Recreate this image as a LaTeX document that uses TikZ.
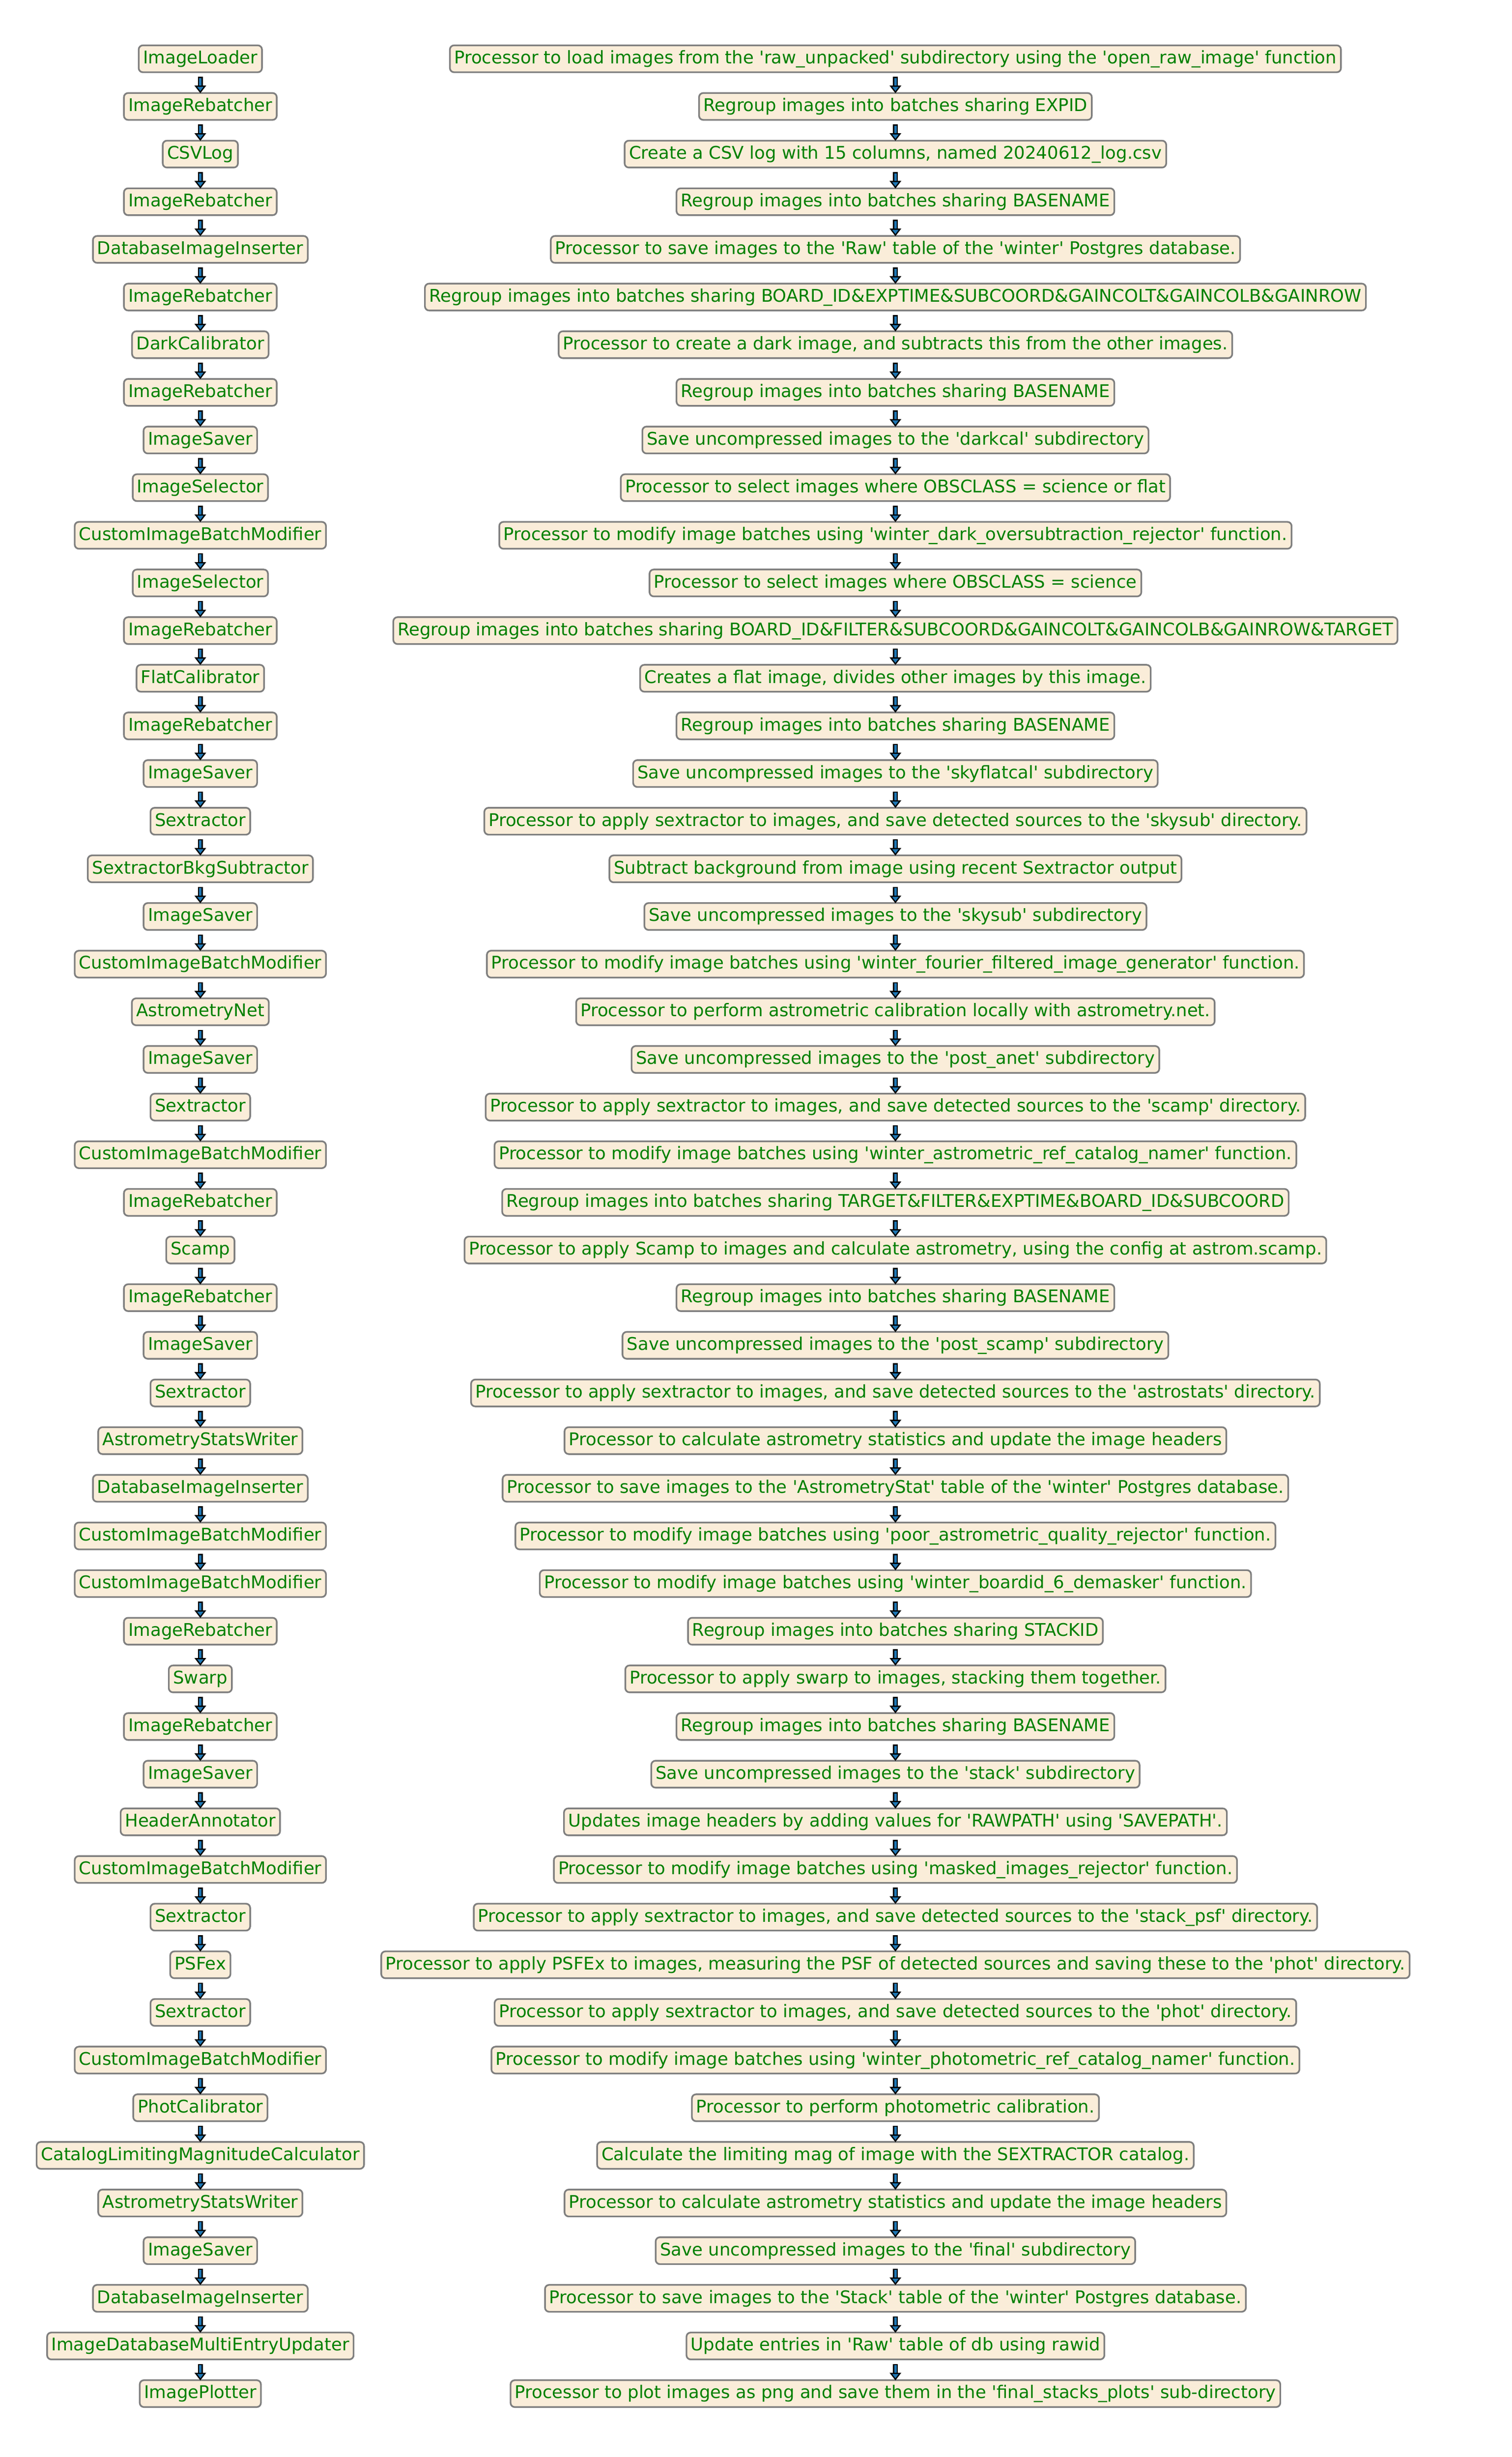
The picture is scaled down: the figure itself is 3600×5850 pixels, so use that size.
\documentclass[tikz,border=0pt]{standalone}
\usepackage{fontspec}
\setmainfont{DejaVu Sans}
\newcommand{\q}{\textquotesingle}
\definecolor{tabblue}{HTML}{1F77B4}
\definecolor{boxfill}{HTML}{FAEDD9}
\definecolor{boxline}{HTML}{7F7F7F}
\definecolor{boxtext}{HTML}{008000}
\tikzset{
  procbox/.style={draw=boxline, line width=1pt, fill=boxfill, rounded corners=2.5pt,
    text=boxtext, font=\fontsize{10.4}{12}\selectfont, inner xsep=2.6pt, inner ysep=0pt,
    minimum height=16pt, text height=8.2pt, text depth=2.4pt, anchor=center},
  shaftout/.style={draw=black, line width=3pt},
  shaftin/.style={draw=tabblue, line width=1.5pt},
  headtri/.style={fill=tabblue, draw=black, line width=0.75pt, line join=miter}
}
\begin{document}
\begin{tikzpicture}[x=0.25pt,y=-0.25pt]
\useasboundingbox (0,0) rectangle (3600,5850);
% left column
\node[procbox] (L1) at (477,140.00) {ImageLoader};
\node[procbox] (L2) at (477,253.45) {ImageRebatcher};
\node[procbox] (L3) at (477,366.90) {CSVLog};
\node[procbox] (L4) at (477,480.35) {ImageRebatcher};
\node[procbox] (L5) at (477,593.80) {DatabaseImageInserter};
\node[procbox] (L6) at (477,707.25) {ImageRebatcher};
\node[procbox] (L7) at (477,820.70) {DarkCalibrator};
\node[procbox] (L8) at (477,934.15) {ImageRebatcher};
\node[procbox] (L9) at (477,1047.60) {ImageSaver};
\node[procbox] (L10) at (477,1161.05) {ImageSelector};
\node[procbox] (L11) at (477,1274.50) {CustomImageBatchModifier};
\node[procbox] (L12) at (477,1387.95) {ImageSelector};
\node[procbox] (L13) at (477,1501.40) {ImageRebatcher};
\node[procbox] (L14) at (477,1614.85) {FlatCalibrator};
\node[procbox] (L15) at (477,1728.30) {ImageRebatcher};
\node[procbox] (L16) at (477,1841.75) {ImageSaver};
\node[procbox] (L17) at (477,1955.20) {Sextractor};
\node[procbox] (L18) at (477,2068.65) {SextractorBkgSubtractor};
\node[procbox] (L19) at (477,2182.10) {ImageSaver};
\node[procbox] (L20) at (477,2295.55) {CustomImageBatchModifier};
\node[procbox] (L21) at (477,2409.00) {AstrometryNet};
\node[procbox] (L22) at (477,2522.45) {ImageSaver};
\node[procbox] (L23) at (477,2635.90) {Sextractor};
\node[procbox] (L24) at (477,2749.35) {CustomImageBatchModifier};
\node[procbox] (L25) at (477,2862.80) {ImageRebatcher};
\node[procbox] (L26) at (477,2976.25) {Scamp};
\node[procbox] (L27) at (477,3089.70) {ImageRebatcher};
\node[procbox] (L28) at (477,3203.15) {ImageSaver};
\node[procbox] (L29) at (477,3316.60) {Sextractor};
\node[procbox] (L30) at (477,3430.05) {AstrometryStatsWriter};
\node[procbox] (L31) at (477,3543.50) {DatabaseImageInserter};
\node[procbox] (L32) at (477,3656.95) {CustomImageBatchModifier};
\node[procbox] (L33) at (477,3770.40) {CustomImageBatchModifier};
\node[procbox] (L34) at (477,3883.85) {ImageRebatcher};
\node[procbox] (L35) at (477,3997.30) {Swarp};
\node[procbox] (L36) at (477,4110.75) {ImageRebatcher};
\node[procbox] (L37) at (477,4224.20) {ImageSaver};
\node[procbox] (L38) at (477,4337.65) {HeaderAnnotator};
\node[procbox] (L39) at (477,4451.10) {CustomImageBatchModifier};
\node[procbox] (L40) at (477,4564.55) {Sextractor};
\node[procbox] (L41) at (477,4678.00) {PSFex};
\node[procbox] (L42) at (477,4791.45) {Sextractor};
\node[procbox] (L43) at (477,4904.90) {CustomImageBatchModifier};
\node[procbox] (L44) at (477,5018.35) {PhotCalibrator};
\node[procbox] (L45) at (477,5131.80) {CatalogLimitingMagnitudeCalculator};
\node[procbox] (L46) at (477,5245.25) {AstrometryStatsWriter};
\node[procbox] (L47) at (477,5358.70) {ImageSaver};
\node[procbox] (L48) at (477,5472.15) {DatabaseImageInserter};
\node[procbox] (L49) at (477,5585.60) {ImageDatabaseMultiEntryUpdater};
\node[procbox] (L50) at (477,5699.05) {ImagePlotter};
% right column
\node[procbox] (R1) at (2132,140.00) {Processor to load images from the \q raw\_unpacked\q{} subdirectory using the \q open\_raw\_image\q{} function};
\node[procbox] (R2) at (2132,253.45) {Regroup images into batches sharing EXPID};
\node[procbox] (R3) at (2132,366.90) {Create a CSV log with 15 columns, named 20240612\_log.csv};
\node[procbox] (R4) at (2132,480.35) {Regroup images into batches sharing BASENAME};
\node[procbox] (R5) at (2132,593.80) {Processor to save images to the \q Raw\q{} table of the \q winter\q{} Postgres database.};
\node[procbox] (R6) at (2132,707.25) {Regroup images into batches sharing BOARD\_ID\&EXPTIME\&SUBCOORD\&GAINCOLT\&GAINCOLB\&GAINROW};
\node[procbox] (R7) at (2132,820.70) {Processor to create a dark image, and subtracts this from the other images.};
\node[procbox] (R8) at (2132,934.15) {Regroup images into batches sharing BASENAME};
\node[procbox] (R9) at (2132,1047.60) {Save uncompressed images to the \q darkcal\q{} subdirectory};
\node[procbox] (R10) at (2132,1161.05) {Processor to select images where OBSCLASS = science or flat};
\node[procbox] (R11) at (2132,1274.50) {Processor to modify image batches using \q winter\_dark\_oversubtraction\_rejector\q{} function.};
\node[procbox] (R12) at (2132,1387.95) {Processor to select images where OBSCLASS = science};
\node[procbox] (R13) at (2132,1501.40) {Regroup images into batches sharing BOARD\_ID\&FILTER\&SUBCOORD\&GAINCOLT\&GAINCOLB\&GAINROW\&TARGET};
\node[procbox] (R14) at (2132,1614.85) {Creates a flat image, divides other images by this image.};
\node[procbox] (R15) at (2132,1728.30) {Regroup images into batches sharing BASENAME};
\node[procbox] (R16) at (2132,1841.75) {Save uncompressed images to the \q skyflatcal\q{} subdirectory};
\node[procbox] (R17) at (2132,1955.20) {Processor to apply sextractor to images, and save detected sources to the \q skysub\q{} directory.};
\node[procbox] (R18) at (2132,2068.65) {Subtract background from image using recent Sextractor output};
\node[procbox] (R19) at (2132,2182.10) {Save uncompressed images to the \q skysub\q{} subdirectory};
\node[procbox] (R20) at (2132,2295.55) {Processor to modify image batches using \q winter\_fourier\_filtered\_image\_generator\q{} function.};
\node[procbox] (R21) at (2132,2409.00) {Processor to perform astrometric calibration locally with astrometry.net.};
\node[procbox] (R22) at (2132,2522.45) {Save uncompressed images to the \q post\_anet\q{} subdirectory};
\node[procbox] (R23) at (2132,2635.90) {Processor to apply sextractor to images, and save detected sources to the \q scamp\q{} directory.};
\node[procbox] (R24) at (2132,2749.35) {Processor to modify image batches using \q winter\_astrometric\_ref\_catalog\_namer\q{} function.};
\node[procbox] (R25) at (2132,2862.80) {Regroup images into batches sharing TARGET\&FILTER\&EXPTIME\&BOARD\_ID\&SUBCOORD};
\node[procbox] (R26) at (2132,2976.25) {Processor to apply Scamp to images and calculate astrometry, using the config at astrom.scamp.};
\node[procbox] (R27) at (2132,3089.70) {Regroup images into batches sharing BASENAME};
\node[procbox] (R28) at (2132,3203.15) {Save uncompressed images to the \q post\_scamp\q{} subdirectory};
\node[procbox] (R29) at (2132,3316.60) {Processor to apply sextractor to images, and save detected sources to the \q astrostats\q{} directory.};
\node[procbox] (R30) at (2132,3430.05) {Processor to calculate astrometry statistics and update the image headers};
\node[procbox] (R31) at (2132,3543.50) {Processor to save images to the \q AstrometryStat\q{} table of the \q winter\q{} Postgres database.};
\node[procbox] (R32) at (2132,3656.95) {Processor to modify image batches using \q poor\_astrometric\_quality\_rejector\q{} function.};
\node[procbox] (R33) at (2132,3770.40) {Processor to modify image batches using \q winter\_boardid\_6\_demasker\q{} function.};
\node[procbox] (R34) at (2132,3883.85) {Regroup images into batches sharing STACKID};
\node[procbox] (R35) at (2132,3997.30) {Processor to apply swarp to images, stacking them together.};
\node[procbox] (R36) at (2132,4110.75) {Regroup images into batches sharing BASENAME};
\node[procbox] (R37) at (2132,4224.20) {Save uncompressed images to the \q stack\q{} subdirectory};
\node[procbox] (R38) at (2132,4337.65) {Updates image headers by adding values for \q RAWPATH\q{} using \q SAVEPATH\q.};
\node[procbox] (R39) at (2132,4451.10) {Processor to modify image batches using \q masked\_images\_rejector\q{} function.};
\node[procbox] (R40) at (2132,4564.55) {Processor to apply sextractor to images, and save detected sources to the \q stack\_psf\q{} directory.};
\node[procbox] (R41) at (2132,4678.00) {Processor to apply PSFEx to images, measuring the PSF of detected sources and saving these to the \q phot\q{} directory.};
\node[procbox] (R42) at (2132,4791.45) {Processor to apply sextractor to images, and save detected sources to the \q phot\q{} directory.};
\node[procbox] (R43) at (2132,4904.90) {Processor to modify image batches using \q winter\_photometric\_ref\_catalog\_namer\q{} function.};
\node[procbox] (R44) at (2132,5018.35) {Processor to perform photometric calibration.};
\node[procbox] (R45) at (2132,5131.80) {Calculate the limiting mag of image with the SEXTRACTOR catalog.};
\node[procbox] (R46) at (2132,5245.25) {Processor to calculate astrometry statistics and update the image headers};
\node[procbox] (R47) at (2132,5358.70) {Save uncompressed images to the \q final\q{} subdirectory};
\node[procbox] (R48) at (2132,5472.15) {Processor to save images to the \q Stack\q{} table of the \q winter\q{} Postgres database.};
\node[procbox] (R49) at (2132,5585.60) {Update entries in \q Raw\q{} table of db using rawid};
\node[procbox] (R50) at (2132,5699.05) {Processor to plot images as png and save them in the \q final\_stacks\_plots\q{} sub-directory};
% connectors
\foreach \c in {L,R}{
  \foreach \a in {1,...,49}{
    \pgfmathtruncatemacro{\b}{\a+1}
    \draw[shaftout] ([yshift=-2.2pt]\c\a.south) -- ([yshift=-8.4pt]\c\a.south);
    \draw[shaftin] ([yshift=-2.95pt]\c\a.south) -- ([yshift=-8.4pt]\c\a.south);
    \draw[headtri] ([xshift=-2.75pt,yshift=-7.8pt]\c\a.south) -- ([xshift=2.75pt,yshift=-7.8pt]\c\a.south) -- (\c\b.north) -- cycle;
  }
}
\end{tikzpicture}
\end{document}
